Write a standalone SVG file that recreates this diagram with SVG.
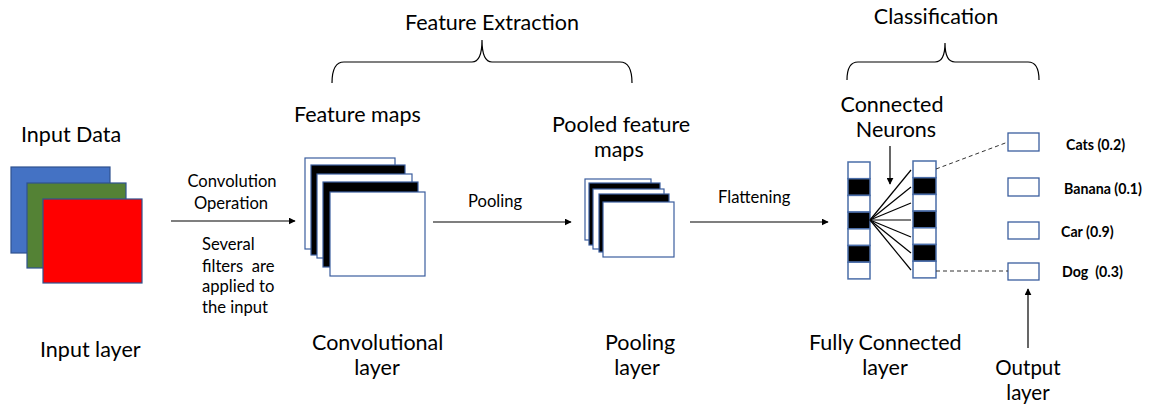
<svg xmlns="http://www.w3.org/2000/svg" width="1154" height="408" viewBox="0 0 1154 408">
  <defs>
    <marker id="arrow" viewBox="0 0 10 10" refX="9" refY="5" markerWidth="7" markerHeight="7" markerUnits="userSpaceOnUse" orient="auto">
      <path d="M0,0 L10,5 L0,10 z" fill="#000"/>
    </marker>
    <style>
      text { font-family: Lato, "Open Sans", "Liberation Sans", sans-serif; fill: #000; }
      .lg { font-size: 21.5px; }
      .sm { font-size: 16.6px; }
      .lbl { font-size: 14.2px; font-weight: bold; }
      .map { stroke: #3B5E9E; stroke-width: 1.2; }
      .w { fill: #fff; }
      .k { fill: #000; }
      .cell { stroke: #4A6DA8; stroke-width: 1.5; }
      .box { fill: #fff; stroke: #3B5E9E; stroke-width: 1.3; }
      .brace { fill: none; stroke: #000; stroke-width: 1.2; }
      .conn { stroke: #000; stroke-width: 1.2; fill: none; }
      .dash { stroke: #333; stroke-width: 1; stroke-dasharray: 4 3; fill: none; }
    </style>
  </defs>

  <rect width="1154" height="408" fill="#fff"/>

  <!-- stage headings with braces -->
  <g id="feature-extraction">
    <text class="lg" x="492" y="30" text-anchor="middle">Feature Extraction</text>
    <path class="brace" d="M332,83 Q332,62 344,62 L472,62 Q482,62 482,40 Q482,62 492,62 L620,62 Q632,62 632,83"/>
  </g>
  <g id="classification">
    <text class="lg" x="936" y="24" text-anchor="middle">Classification</text>
    <path class="brace" d="M847,80 Q847,62 858,62 L935,62 Q945,62 945,43 Q945,62 955,62 L1028,62 Q1039,62 1039,80"/>
  </g>

  <!-- input layer: three colour channels -->
  <g id="input-layer">
    <text class="lg" x="21" y="142">Input Data</text>
    <rect x="11" y="167" width="99" height="86" fill="#4472C4" stroke="#2F528F" stroke-width="1.2"/>
    <rect x="27" y="183" width="99" height="85" fill="#548235" stroke="#2F528F" stroke-width="1.2"/>
    <rect x="43" y="199" width="99" height="84" fill="#FF0000" stroke="#2F528F" stroke-width="1.2"/>
    <text class="lg" x="40" y="357">Input layer</text>
  </g>

  <!-- convolutional layer: stack of feature maps -->
  <g id="convolutional-layer">
    <text class="lg" x="294" y="122">Feature maps</text>
    <rect class="map w" x="305" y="158" width="90" height="91"/>
    <rect class="map k" x="311" y="165" width="94" height="90"/>
    <rect class="map w" x="317" y="174" width="95" height="84"/>
    <rect class="map k" x="323" y="182" width="95" height="85"/>
    <rect class="map w" x="330" y="192" width="95" height="84"/>
    <text class="lg" x="312" y="350">Convolutional</text>
    <text class="lg" x="377" y="375" text-anchor="middle">layer</text>
  </g>

  <!-- pooling layer: smaller stack -->
  <g id="pooling-layer">
    <text class="lg" x="552" y="132">Pooled feature</text>
    <text class="lg" x="594" y="157">maps</text>
    <rect class="map w" x="585" y="179" width="66" height="61"/>
    <rect class="map k" x="589" y="183" width="71" height="62"/>
    <rect class="map w" x="593" y="189" width="71" height="60"/>
    <rect class="map k" x="599" y="194" width="70" height="58"/>
    <rect class="map w" x="603" y="202" width="71" height="55"/>
    <text class="lg" x="605" y="350">Pooling</text>
    <text class="lg" x="637" y="375" text-anchor="middle">layer</text>
  </g>

  <!-- fully connected layer: two neuron columns -->
  <g id="fully-connected-layer">
    <text class="lg" x="892" y="112" text-anchor="middle">Connected</text>
    <text class="lg" x="896" y="137" text-anchor="middle">Neurons</text>
    <g id="neurons-left">
      <rect class="cell w" x="848" y="162" width="22" height="16.7"/>
      <rect class="cell k" x="848" y="178.7" width="22" height="16.7"/>
      <rect class="cell w" x="848" y="195.4" width="22" height="16.7"/>
      <rect class="cell k" x="848" y="212.1" width="22" height="16.7"/>
      <rect class="cell w" x="848" y="228.8" width="22" height="16.7"/>
      <rect class="cell k" x="848" y="245.5" width="22" height="16.7"/>
      <rect class="cell w" x="848" y="262.2" width="22" height="16.7"/>
    </g>
    <g id="neurons-right">
      <rect class="cell w" x="913" y="161" width="23" height="16.7"/>
      <rect class="cell k" x="913" y="177.7" width="23" height="16.7"/>
      <rect class="cell w" x="913" y="194.4" width="23" height="16.7"/>
      <rect class="cell k" x="913" y="211.1" width="23" height="16.7"/>
      <rect class="cell w" x="913" y="227.8" width="23" height="16.7"/>
      <rect class="cell k" x="913" y="244.5" width="23" height="16.7"/>
      <rect class="cell w" x="913" y="261.2" width="23" height="16.7"/>
    </g>
    <text class="lg" x="809" y="350">Fully Connected</text>
    <text class="lg" x="885" y="375" text-anchor="middle">layer</text>
  </g>

  <!-- output layer: class scores -->
  <g id="output-layer">
    <rect class="box" x="1008" y="133" width="31" height="18"/>
    <rect class="box" x="1008" y="178" width="31" height="18"/>
    <rect class="box" x="1008" y="222" width="31" height="17"/>
    <rect class="box" x="1008" y="263" width="31" height="17"/>
    <text class="lbl" x="1066" y="150">Cats (0.2)</text>
    <text class="lbl" x="1064" y="194">Banana (0.1)</text>
    <text class="lbl" x="1061" y="237">Car (0.9)</text>
    <text class="lbl" x="1062" y="277" xml:space="preserve">Dog  (0.3)</text>
    <text x="1028" y="375" text-anchor="middle" font-size="20.5">Output</text>
    <text x="1028" y="400" text-anchor="middle" font-size="20.5">layer</text>
  </g>

  <!-- operation notes -->
  <g id="notes">
    <text class="sm" x="232" y="187" text-anchor="middle">Convolution</text>
    <text class="sm" x="231" y="209" text-anchor="middle">Operation</text>
    <text class="sm" x="202" y="250">Several</text>
    <text class="sm" x="202" y="272" xml:space="preserve">filters  are</text>
    <text class="sm" x="202" y="292">applied to</text>
    <text class="sm" x="202" y="313">the input</text>
    <text class="sm" x="468" y="207">Pooling</text>
    <text class="sm" x="718" y="203">Flattening</text>
  </g>

  <!-- connectors -->
  <g id="connectors">
    <line class="conn" x1="171" y1="221" x2="295" y2="221" marker-end="url(#arrow)"/>
    <line class="conn" x1="433" y1="222" x2="571" y2="222" marker-end="url(#arrow)"/>
    <line class="conn" x1="690" y1="222" x2="828" y2="222" marker-end="url(#arrow)"/>
    <line class="conn" x1="890" y1="146" x2="890" y2="184" marker-end="url(#arrow)"/>
    <line class="conn" x1="1028" y1="348" x2="1028" y2="289" marker-end="url(#arrow)"/>
    <g id="fan-out">
      <line class="conn" x1="870" y1="220" x2="911" y2="170"/>
      <line class="conn" x1="870" y1="220" x2="911" y2="187"/>
      <line class="conn" x1="870" y1="220" x2="911" y2="203"/>
      <line class="conn" x1="870" y1="220" x2="911" y2="220"/>
      <line class="conn" x1="870" y1="220" x2="911" y2="237"/>
      <line class="conn" x1="870" y1="220" x2="911" y2="253"/>
      <line class="conn" x1="870" y1="220" x2="911" y2="270"/>
    </g>
    <line class="dash" x1="936" y1="169" x2="1008" y2="142"/>
    <line class="dash" x1="936" y1="271" x2="1008" y2="271"/>
  </g>
</svg>
